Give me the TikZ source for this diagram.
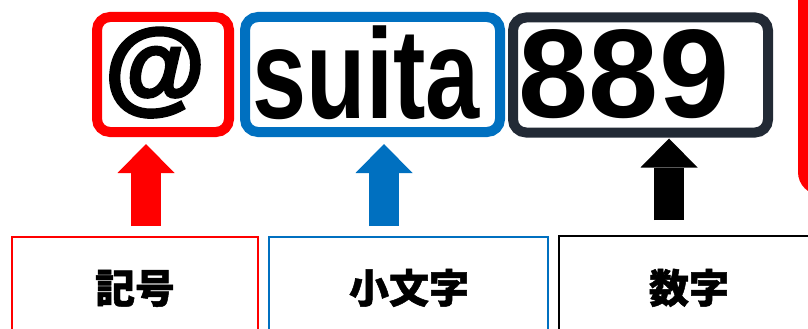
\documentclass[tikz,border=0pt]{standalone}
\usepackage{fontspec}
\usepackage{graphicx}
\newfontfamily\cjk{Noto Sans CJK JP}[BoldFeatures={FakeBold=1.2}]
\newfontfamily\lat{Liberation Sans}
\newfontfamily\atfont{Liberation Sans}[BoldFeatures={FakeBold=3}]
\usetikzlibrary{arrows.meta}
\definecolor{myred}{HTML}{FF0000}
\definecolor{myblue}{HTML}{0070C0}
\definecolor{mydark}{HTML}{222A35}
\begin{document}
\begin{tikzpicture}[x=1pt,y=-1pt,
  tbox/.style={draw, line width=10pt, rounded corners=13pt, minimum height=115pt, inner sep=0pt, outer sep=0pt},
  lbox/.style={draw, line width=2pt, minimum height=110pt, inner sep=0pt, outer sep=0pt, anchor=north west},
  bigtxt/.style={font=\lat\bfseries, inner sep=0pt, anchor=base},
  cjktxt/.style={font=\cjk\bfseries\fontsize{40}{44}\selectfont, inner sep=0pt, anchor=base},
  bigarrow/.style={line width=30pt, -{Triangle[width=57pt,length=29pt,line width=0pt]}}
]
\useasboundingbox (0,0) rectangle (808,329);
\clip (0,0) rectangle (808,329);

% top boxes
\node[tbox, draw=myred, minimum width=132pt] (t1) at (163,74.5) {};
\node[tbox, draw=myblue, minimum width=255pt] (t2) at (372.5,74.5) {};
\node[tbox, draw=mydark, minimum width=255pt] (t3) at (640.5,75) {};
% partial red box at right edge
\node[draw=myred, line width=10pt, rounded corners=18pt, minimum width=100pt, minimum height=240pt, inner sep=0pt, outer sep=0pt, anchor=south west] (rp) at (803,190) {};

% top texts
\node[bigtxt, font=\atfont\bfseries\fontsize{103}{110}\selectfont] (at) at (155,101) {@};
\node[bigtxt, font=\lat\bfseries\fontsize{128}{130}\selectfont] (su) at (366,118) {\scalebox{0.76}[1]{suita}};
\node[bigtxt, font=\lat\bfseries\fontsize{126}{130}\selectfont] (nu) at (624,117) {889};

% bottom boxes
\node[lbox, draw=myred, minimum width=246pt] (b1) at (12,237) {};
\node[lbox, draw=myblue, minimum width=279pt] (b2) at (269,237) {};
\node[lbox, draw=black, line width=2.5pt, minimum width=260pt] (b3) at (559,236) {};

% bottom texts
\node[cjktxt] (l1) at (135,303) {記号};
\node[cjktxt] (l2) at (409,303) {小文字};
\node[cjktxt] (l3) at (689,303) {数字};

% arrows
\draw[bigarrow, myred, shorten <=11pt, shorten >=12pt] ([xshift=11pt]b1.north) -- ([xshift=11pt]b1.north |- t1.south);
\draw[bigarrow, myblue, shorten <=11pt, shorten >=12pt] ([xshift=-24.5pt]b2.north) -- ([xshift=-24.5pt]b2.north |- t2.south);
\draw[bigarrow, black, shorten <=16pt, shorten >=6pt] ([xshift=-20pt]b3.north) -- ([xshift=-20pt]b3.north |- t3.south);
\end{tikzpicture}
\end{document}
